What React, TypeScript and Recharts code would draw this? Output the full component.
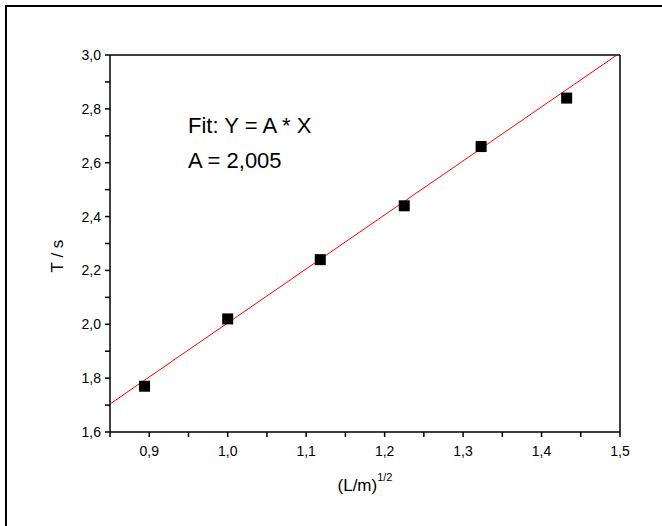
import React from 'react';
import { ScatterChart, Scatter, XAxis, YAxis, ReferenceLine, Label, Customized } from 'recharts';

// measured points: sqrt(L/m) vs period T
const sqrtLength = [0.894, 1.0, 1.118, 1.225, 1.323, 1.432];
const period = [1.77, 2.02, 2.24, 2.44, 2.66, 2.84];

// fit line Y = 2,005 * X, clipped to the plot frame
const fitX = [0.85, 1.496];
const fitY = [1.704, 3.0];

const xTicks = [0.85, 0.9, 0.95, 1.0, 1.05, 1.1, 1.15, 1.2, 1.25, 1.3, 1.35, 1.4, 1.45, 1.5];
const xLabeled = [0.9, 1.0, 1.1, 1.2, 1.3, 1.4, 1.5];
const yTicks = [1.6, 1.7, 1.8, 1.9, 2.0, 2.1, 2.2, 2.3, 2.4, 2.5, 2.6, 2.7, 2.8, 2.9, 3.0];
const yLabeled = [1.6, 1.8, 2.0, 2.2, 2.4, 2.6, 2.8, 3.0];

const fitText = ['Fit: Y = A * X', 'A = 2,005'];

const FONT = '"Liberation Sans", Arial, sans-serif';

const points = sqrtLength.map((x, i) => ({ x, y: period[i] }));
const fitLine = fitX.map((x, i) => ({ x, y: fitY[i] }));

const fmt = (labeled: number[]) => (v: number) =>
  labeled.some(l => Math.abs(l - v) < 1e-6) ? v.toFixed(1).replace('.', ',') : '';

const Square = (p: any) => (
  <rect x={p.cx - 5.5} y={p.cy - 5.5} width={11} height={11} fill="#000" />
);

const Overlay = () => (
  <g>
    <rect x={6} y={6} width={720} height={620} fill="none" stroke="#000" strokeWidth={2} />
    <text x={188} y={133} fontSize={22} fontFamily={FONT} fill="#000">{fitText[0]}</text>
    <text x={188} y={168} fontSize={22} fontFamily={FONT} fill="#000">{fitText[1]}</text>
  </g>
);

const App: React.FC = () => {
  return (
    <div style={{ position: 'absolute', left: 0, top: 0, width: 662, height: 526, background: '#fff' }}>
      <ScatterChart
        width={662}
        height={526}
        margin={{ top: 55, right: 42, bottom: 64, left: 0 }}
      >
        <XAxis
          type="number"
          dataKey="x"
          domain={[0.85, 1.5]}
          ticks={xTicks}
          tickFormatter={fmt(xLabeled)}
          interval={0}
          height={30}
          stroke="#000"
          strokeWidth={1.5}
          tickSize={5}
          tickMargin={9}
          tick={{ fill: '#000', fontSize: 14, fontFamily: FONT }}
        >
          <Label
            content={(props: any) => {
              const vb = props.viewBox;
              const cx = vb.x + vb.width / 2;
              return (
                <text x={cx} y={491} textAnchor="middle" fontFamily={FONT} fill="#000">
                  <tspan fontSize={17}>(L/m)</tspan>
                  <tspan fontSize={11} dy={-10}>1/2</tspan>
                </text>
              );
            }}
          />
        </XAxis>
        <YAxis
          type="number"
          dataKey="y"
          domain={[1.6, 3.0]}
          ticks={yTicks}
          tickFormatter={fmt(yLabeled)}
          interval={0}
          width={110}
          stroke="#000"
          strokeWidth={1.5}
          tickSize={5}
          tickMargin={4}
          tick={{ fill: '#000', fontSize: 14, fontFamily: FONT }}
        >
          <Label
            content={() => (
              <text
                x={63}
                y={256}
                transform="rotate(-90, 63, 256)"
                textAnchor="middle"
                fontSize={17}
                fontFamily={FONT}
                fill="#000"
              >
                T / s
              </text>
            )}
          />
        </YAxis>
        <ReferenceLine y={3.0} stroke="#000" strokeWidth={1.5} />
        <ReferenceLine x={1.5} stroke="#000" strokeWidth={1.5} />
        <Scatter
          data={fitLine}
          line={{ stroke: '#ff0000', strokeWidth: 1 }}
          shape={() => <g />}
          isAnimationActive={false}
        />
        <Scatter data={points} shape={Square} isAnimationActive={false} />
        <Customized component={Overlay} />
      </ScatterChart>
    </div>
  );
};

export default App;
